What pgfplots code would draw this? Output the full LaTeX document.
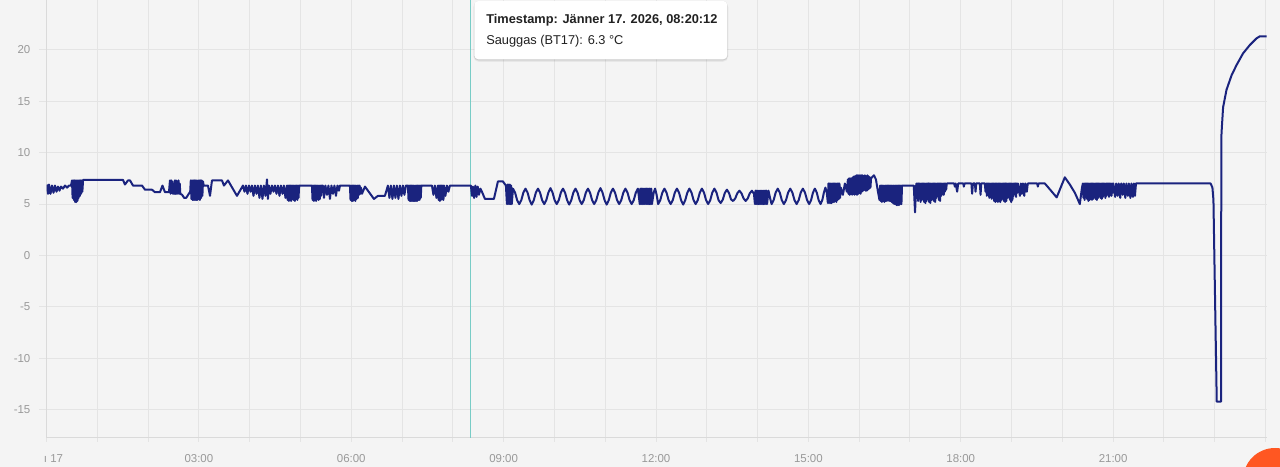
\documentclass[border=0pt]{standalone}
\usepackage{fontspec}
\setmainfont{Liberation Sans}
\usepackage{pgfplots}
\pgfplotsset{compat=1.18}
\definecolor{bgc}{HTML}{F4F4F4}
\definecolor{gridc}{HTML}{E4E4E4}
\definecolor{axc}{HTML}{DADADA}
\definecolor{labc}{HTML}{999999}
\definecolor{linec}{HTML}{1A237E}
\definecolor{fab}{HTML}{FF5722}
\begin{document}
\begin{tikzpicture}
\fill[bgc] (0pt,0pt) rectangle (960pt,350.25pt);
\begin{axis}[
  at={(34.875pt,21.975pt)}, anchor=south west,
  scale only axis, width=915pt, height=328.275pt,
  xmin=0, xmax=24.02, ymin=-17.7, ymax=24.83,
  axis x line*=bottom, axis y line*=left,
  axis line style={axc, line width=0.75pt, -},
  xtick={0,3,6,9,12,15,18,21},
  minor xtick={1,2,4,5,7,8,10,11,13,14,16,17,19,20,22,23,24},
  xticklabels={{\makebox[0pt][l]{\hspace{-1.9pt}\i\ 17}},03:00,06:00,09:00,12:00,15:00,18:00,21:00},
  ytick={-15,-10,-5,0,5,10,15,20},
  yticklabels={-15,-10,-5,0,5,10,15,20},
  grid=both,
  major grid style={gridc, line width=0.75pt},
  minor grid style={gridc, line width=0.75pt},
  tick align=outside,
  xtick style={gridc, line width=0.75pt, /pgfplots/major tick length=3pt, /pgfplots/minor tick length=3pt},
  ytick style={gridc, line width=0.75pt, /pgfplots/major tick length=5.6pt},
  every tick label/.append style={font=\fontsize{8.6}{10}\selectfont, text=labc},
  yticklabel style={xshift=-4.3pt},
  xticklabel style={yshift=-5pt},
]
\addplot[draw={rgb,255:red,120;green,204;blue,198}, line width=0.65pt, mark=none, forget plot] coordinates {(8.3367,-17.7) (8.3367,24.83)};
\addplot[linec, line width=1.5pt, line join=round, mark=none] coordinates {
(0.010,6.9) (0.030,6.0) (0.049,6.9) (0.079,6.0) (0.108,6.8) (0.138,6.1) (0.167,6.8) (0.197,6.2) (0.226,6.7) (0.256,6.3) (0.285,6.7) (0.325,6.5) (0.364,6.8) (0.404,6.6) (0.443,6.8) (0.482,6.8)
(0.502,7.3) (0.514,5.6) (0.526,7.3) (0.538,5.4) (0.550,7.3) (0.562,5.2) (0.574,7.3) (0.586,5.2) (0.598,7.3) (0.610,5.3) (0.622,7.3) (0.634,5.6) (0.646,7.3) (0.658,5.8) (0.670,7.3) (0.682,6.0) (0.694,7.3) (0.706,6.2) (0.720,7.35)
(1.506,7.35) (1.545,6.9) (1.604,7.3) (1.644,7.3) (1.703,6.8) (1.880,6.8) (1.939,6.4) (2.077,6.4) (2.136,6.15) (2.234,6.15) (2.283,6.8) (2.333,6.15) (2.411,6.15)
(2.431,7.3) (2.443,6.0) (2.455,7.3) (2.467,6.1) (2.479,7.2) (2.491,6.0) (2.503,6.8) (2.515,6.0) (2.527,7.3) (2.539,6.0) (2.551,7.3) (2.563,6.0) (2.575,7.2) (2.587,6.0) (2.599,7.3) (2.611,6.0) (2.623,7.0) (2.635,6.0)
(2.671,5.9) (2.711,5.6) (2.750,5.6) (2.789,5.9) (2.829,6.2)
(2.841,7.3) (2.853,5.5) (2.865,7.3) (2.877,5.4) (2.889,7.3) (2.901,5.4) (2.913,7.3) (2.925,5.4) (2.937,7.3) (2.949,5.4) (2.961,7.3) (2.973,5.4) (2.985,7.3) (2.997,5.5) (3.009,7.3) (3.021,5.4) (3.033,7.3) (3.045,5.6) (3.057,7.3) (3.069,5.8) (3.081,7.2)
(3.095,6.8) (3.179,6.8) (3.219,5.8) (3.258,7.3) (3.455,7.3) (3.494,6.8) (3.573,7.3) (3.750,5.8) (3.868,6.8)
(3.898,6.2) (3.927,6.8) (3.957,6.0) (3.986,6.8) (4.016,6.2) (4.045,6.8) (4.075,5.8) (4.104,6.8) (4.134,6.0) (4.163,6.8) (4.193,5.6) (4.222,6.8) (4.252,5.5) (4.281,6.8) (4.311,5.8) (4.341,7.4) (4.360,5.5) (4.380,6.8) (4.409,6.0) (4.439,6.8)
(4.469,6.2) (4.498,6.8) (4.528,6.0) (4.557,6.8) (4.587,5.8) (4.616,6.8) (4.646,6.0) (4.675,6.8) (4.705,5.6) (4.734,6.8)
(4.746,5.4) (4.758,6.8) (4.770,5.3) (4.782,6.8) (4.794,5.4) (4.806,6.8) (4.818,5.3) (4.830,6.8) (4.842,5.5) (4.854,6.8) (4.866,5.4) (4.878,6.8) (4.890,5.3) (4.902,6.8) (4.914,5.5) (4.926,6.8) (4.938,5.4) (4.950,6.8) (4.962,5.6) (4.974,6.8)
(5.226,6.8)
(5.238,5.4) (5.250,6.8) (5.262,5.3) (5.274,6.8) (5.286,5.4) (5.298,6.8) (5.310,5.3) (5.322,6.8) (5.334,5.6) (5.346,6.8) (5.358,5.4) (5.370,6.8) (5.382,5.5) (5.394,6.8) (5.406,5.8) (5.418,6.8)
(5.443,6.8) (5.463,5.6) (5.492,6.8) (5.522,5.9) (5.551,6.8) (5.581,5.5) (5.610,6.8) (5.640,6.0) (5.669,6.8) (5.699,5.8) (5.728,6.8) (5.758,6.3) (5.778,6.8)
(5.974,6.8)
(5.986,5.4) (5.998,6.8) (6.010,5.3) (6.022,6.8) (6.034,5.3) (6.046,6.8) (6.058,5.4) (6.070,6.8) (6.082,5.3) (6.094,6.8) (6.106,5.5) (6.118,6.8) (6.130,5.6) (6.142,6.8) (6.154,5.9) (6.166,6.8) (6.178,6.0) (6.191,6.6)
(6.211,6.0) (6.270,6.7) (6.329,6.3) (6.447,5.5) (6.526,5.8) (6.663,5.8) (6.722,6.8)
(6.752,5.6) (6.781,6.8) (6.811,5.5) (6.841,6.8) (6.870,5.6) (6.900,6.8) (6.929,5.5) (6.959,6.8) (6.988,5.8) (7.018,6.8) (7.047,5.9) (7.077,6.8) (7.116,6.8)
(7.128,5.4) (7.140,6.8) (7.152,5.3) (7.164,6.8) (7.176,5.3) (7.188,6.8) (7.200,5.3) (7.212,6.8) (7.224,5.3) (7.236,6.8) (7.248,5.3) (7.260,6.8) (7.272,5.3) (7.284,6.8) (7.296,5.3) (7.308,6.8) (7.320,5.4) (7.332,6.8) (7.344,5.4) (7.356,6.8) (7.368,5.6) (7.380,6.8)
(7.589,6.8) (7.618,5.9) (7.648,6.8) (7.677,5.6) (7.707,6.8)
(7.719,5.4) (7.731,6.8) (7.743,5.3) (7.755,6.8) (7.767,5.4) (7.779,6.8) (7.791,5.5) (7.803,6.8) (7.815,5.4) (7.827,6.8)
(7.854,5.8) (7.884,6.8) (7.913,6.2) (7.943,6.8)
(8.337,6.8) (8.356,6.8) (8.376,5.8) (8.396,6.7) (8.419,5.6) (8.443,6.8) (8.467,5.7) (8.490,6.7) (8.514,5.9) (8.543,6.5) (8.573,6.2) (8.632,5.5) (8.809,5.5) (8.888,7.2) (8.986,7.2) (9.045,6.8)
(9.065,5.0) (9.077,6.9) (9.089,5.0) (9.101,6.9) (9.113,5.0) (9.125,6.9) (9.137,5.0) (9.149,6.8) (9.161,5.0)
(9.184,6.5) (9.225,6.12) (9.266,5.38)
(9.307,5.0) (9.348,5.38) (9.389,6.12) (9.430,6.5) (9.471,6.12) (9.512,5.38)
(9.553,4.95) (9.594,5.38) (9.635,6.12) (9.676,6.5) (9.717,6.12) (9.758,5.38)
(9.799,5.0) (9.840,5.38) (9.881,6.12) (9.922,6.55) (9.963,6.12) (10.004,5.38)
(10.045,5.0) (10.086,5.38) (10.127,6.12) (10.168,6.5) (10.209,6.12) (10.250,5.38)
(10.291,4.95) (10.332,5.38) (10.373,6.12) (10.414,6.5) (10.455,6.12) (10.496,5.38)
(10.537,5.0) (10.578,5.38) (10.619,6.12) (10.660,6.5) (10.701,6.12) (10.742,5.38)
(10.783,5.0) (10.824,5.38) (10.865,6.12) (10.906,6.55) (10.947,6.12) (10.988,5.38)
(11.029,4.95) (11.070,5.38) (11.111,6.12) (11.152,6.5) (11.193,6.12) (11.234,5.38)
(11.275,5.0) (11.316,5.38) (11.357,6.12) (11.398,6.5) (11.439,6.12) (11.480,5.38)
(11.521,5.0) (11.562,5.38) (11.603,6.12) (11.644,6.5)
(11.680,5.0) (11.692,6.5) (11.704,5.0) (11.716,6.5) (11.728,5.0) (11.740,6.5) (11.752,5.0) (11.764,6.5) (11.776,5.0) (11.788,6.5) (11.800,5.0) (11.812,6.5) (11.824,5.0) (11.836,6.5) (11.848,5.0) (11.860,6.5) (11.872,5.0) (11.884,6.5) (11.896,5.0) (11.908,6.5) (11.920,5.0)
(11.955,6.12) (11.982,6.5) (12.012,5.9)
(12.043,5.0) (12.084,5.38) (12.125,6.12) (12.166,6.5) (12.207,6.12) (12.248,5.38)
(12.289,5.0) (12.330,5.38) (12.371,6.12) (12.412,6.5) (12.453,6.12) (12.494,5.38)
(12.535,4.95) (12.576,5.38) (12.617,6.12) (12.658,6.5) (12.699,6.12) (12.740,5.38)
(12.781,5.0) (12.822,5.38) (12.863,6.12) (12.904,6.5) (12.945,6.12) (12.986,5.38)
(13.027,5.0) (13.068,5.38) (13.109,6.12) (13.150,6.5) (13.191,6.12) (13.232,5.38)
(13.273,5.1) (13.314,5.42) (13.355,6.08) (13.396,6.4) (13.437,6.08) (13.478,5.45)
(13.519,5.3) (13.560,5.55) (13.601,6.05) (13.642,6.3) (13.683,6.05) (13.724,5.55)
(13.765,5.3) (13.806,5.55) (13.847,6.05) (13.888,6.3) (13.929,6.0)
(13.947,5.0) (13.959,6.3) (13.971,5.0) (13.983,6.3) (13.995,5.0) (14.007,6.3) (14.019,5.0) (14.031,6.3) (14.043,5.0) (14.055,6.3) (14.067,5.0) (14.079,6.3) (14.091,5.0) (14.103,6.3) (14.115,5.0) (14.127,6.3) (14.139,5.0) (14.151,6.3) (14.163,5.0) (14.175,6.3) (14.187,5.0)
(14.215,6.3) (14.245,5.6)
(14.276,5.0) (14.316,5.38) (14.356,6.12) (14.397,6.5) (14.437,6.12) (14.477,5.38)
(14.518,5.0) (14.560,5.38) (14.601,6.12) (14.643,6.5) (14.685,6.12) (14.727,5.38)
(14.768,5.0) (14.809,5.38) (14.850,6.12) (14.892,6.5) (14.933,6.12) (14.975,5.38)
(15.016,5.0) (15.053,5.38) (15.091,6.12) (15.128,6.5) (15.165,6.12) (15.203,5.38)
(15.240,5.0) (15.275,5.4) (15.305,6.1) (15.335,6.6) (15.360,6.2)
(15.384,5.1) (15.396,7.0) (15.408,5.1) (15.420,7.0) (15.432,5.1) (15.444,7.0) (15.456,5.1) (15.468,7.0) (15.480,5.2) (15.492,7.0) (15.504,5.2) (15.516,7.0) (15.528,5.3) (15.540,7.0) (15.552,5.2) (15.564,7.0) (15.576,5.4) (15.588,7.0) (15.600,5.5) (15.612,7.0) (15.624,5.6)
(15.640,6.6) (15.680,5.9) (15.719,7.0) (15.758,6.2) (15.778,7.4)
(15.790,6.0) (15.802,7.5) (15.814,5.9) (15.826,7.5) (15.838,6.0) (15.850,7.5) (15.862,5.9) (15.874,7.6) (15.886,6.0) (15.898,7.7) (15.910,5.9) (15.922,7.7) (15.934,6.0) (15.946,7.8) (15.958,5.9) (15.970,7.8) (15.982,6.0) (15.994,7.8) (16.006,6.1) (16.018,7.8) (16.030,6.0) (16.042,7.8) (16.054,6.2)
(16.066,7.8) (16.078,6.3) (16.090,7.7) (16.102,6.4) (16.114,7.8) (16.126,6.3) (16.138,7.7) (16.150,6.3) (16.162,7.8) (16.174,6.4) (16.186,7.7) (16.198,6.5) (16.210,7.6) (16.222,6.6) (16.234,7.5)
(16.290,7.8) (16.330,7.4) (16.370,6.2) (16.400,5.4)
(16.412,6.8) (16.424,5.3) (16.436,6.8) (16.448,5.2) (16.460,6.8) (16.472,5.3) (16.484,6.8) (16.496,5.2) (16.508,6.8) (16.520,5.3) (16.532,6.8) (16.544,5.3) (16.556,6.8) (16.568,5.4) (16.580,6.8) (16.592,5.3) (16.604,6.8) (16.616,5.3) (16.628,6.8) (16.640,5.2) (16.652,6.8) (16.664,5.1) (16.676,6.8) (16.688,5.0) (16.700,6.8) (16.712,5.0) (16.724,6.8) (16.736,4.9) (16.748,6.8) (16.760,4.9) (16.772,6.8) (16.784,4.9) (16.796,6.8) (16.808,5.0) (16.820,6.8) (16.832,5.0) (16.844,6.8)
(17.075,6.8) (17.100,4.2) (17.125,7.0)
(17.137,5.6) (17.149,7.0) (17.161,5.3) (17.173,7.0) (17.185,5.6) (17.197,7.0) (17.209,5.2) (17.221,7.0) (17.233,5.4) (17.245,7.0) (17.257,5.8) (17.269,7.0) (17.281,5.2) (17.293,7.0) (17.305,5.1) (17.317,7.0) (17.329,5.3) (17.341,7.0) (17.353,5.5) (17.365,7.0) (17.377,5.2) (17.389,7.0) (17.401,5.1) (17.413,7.0) (17.425,5.4) (17.437,7.0) (17.449,5.6) (17.461,7.0) (17.473,5.3) (17.485,7.0) (17.497,5.2) (17.509,7.0) (17.521,5.6) (17.533,7.0) (17.545,5.9) (17.557,7.0) (17.569,5.4) (17.581,7.0) (17.593,5.3) (17.605,7.0) (17.617,5.8) (17.629,7.0) (17.641,6.1) (17.653,7.0) (17.665,5.9) (17.677,7.0) (17.689,6.2) (17.701,7.0) (17.713,6.4) (17.725,7.0)
(17.870,7.0) (17.884,6.7) (17.900,7.0) (17.929,6.2) (17.950,7.0) (18.050,7.0) (18.061,6.7) (18.075,7.0) (18.210,7.0) (18.224,6.0) (18.240,7.0) (18.280,7.0) (18.291,6.2) (18.305,7.0) (18.376,7.0) (18.390,5.9) (18.404,7.0) (18.474,7.0) (18.488,6.2) (18.502,7.0)
(18.514,5.8) (18.526,7.0) (18.538,6.0) (18.550,7.0) (18.562,5.6) (18.574,7.0) (18.586,5.9) (18.598,7.0) (18.610,5.5) (18.622,7.0) (18.634,5.8) (18.646,7.0) (18.658,5.3) (18.670,7.0) (18.682,5.2) (18.694,7.0) (18.706,5.3) (18.718,7.0) (18.730,5.2) (18.742,7.0) (18.754,5.3) (18.766,7.0) (18.778,5.2) (18.790,7.0) (18.802,5.4) (18.814,7.0) (18.826,5.6) (18.838,7.0) (18.850,5.3) (18.862,7.0) (18.874,5.2) (18.886,7.0) (18.898,5.3) (18.910,7.0) (18.922,5.6) (18.934,7.0) (18.946,5.9) (18.958,7.0) (18.970,5.4) (18.982,7.0) (18.994,5.2) (19.006,7.0) (19.018,5.4) (19.030,7.0) (19.042,5.8) (19.054,7.0) (19.066,6.0) (19.078,7.0) (19.090,5.7) (19.102,7.0) (19.114,6.1) (19.126,7.0)
(19.165,5.8) (19.185,7.0) (19.205,6.0) (19.225,7.0) (19.250,5.8) (19.270,7.0) (19.300,6.2) (19.320,7.0)
(19.505,7.0) (19.518,6.7) (19.531,7.0) (19.656,7.0) (19.760,6.4) (19.889,5.65) (20.049,7.6) (20.148,6.9) (20.246,6.1) (20.310,5.4) (20.344,5.0) (20.384,6.5) (20.404,7.0)
(20.416,5.6) (20.428,7.0) (20.440,5.4) (20.452,7.0) (20.464,5.7) (20.476,7.0) (20.488,5.5) (20.500,7.0) (20.512,5.3) (20.524,7.0) (20.536,5.4) (20.548,7.0) (20.560,5.6) (20.572,7.0) (20.584,5.4) (20.596,7.0) (20.608,5.5) (20.620,7.0) (20.632,5.8) (20.644,7.0) (20.656,5.5) (20.668,7.0) (20.680,5.4) (20.692,7.0) (20.704,5.6) (20.716,7.0) (20.728,5.9) (20.740,7.0) (20.752,5.6) (20.764,7.0) (20.776,5.5) (20.788,7.0) (20.800,5.7) (20.812,7.0) (20.824,5.9) (20.836,7.0) (20.848,5.6) (20.860,7.0) (20.872,5.8) (20.884,7.0) (20.896,6.0) (20.908,7.0) (20.920,5.7) (20.932,7.0) (20.944,6.0) (20.956,7.0) (20.968,5.8) (20.980,7.0) (20.992,6.1) (21.004,7.0)
(21.040,5.7) (21.060,7.0) (21.090,5.8) (21.110,7.0) (21.140,5.6) (21.160,7.0) (21.190,5.9) (21.210,7.0) (21.240,5.6) (21.260,7.0) (21.290,5.8) (21.310,7.0) (21.340,5.6) (21.360,7.0) (21.390,5.7) (21.410,7.0) (21.430,5.8) (21.450,7.0)
(22.920,7.0) (22.955,6.6) (22.975,5.4) (23.040,-14.2) (23.125,-14.2) (23.130,10.8) (23.134,11.9) (23.165,14.4) (23.232,16.1) (23.331,17.5) (23.429,18.5) (23.559,19.65) (23.691,20.45) (23.823,21.1) (23.888,21.3) (24.020,21.3)
};
\end{axis}
\begin{scope}[x=0.75pt,y=0.75pt]
\fill[black, opacity=0.05, rounded corners=4pt] (473.3,405.2) rectangle (728.3,465);
\fill[black, opacity=0.06, rounded corners=3.5pt] (473.8,406.2) rectangle (727.8,465.5);
\fill[black, opacity=0.07, rounded corners=3pt] (474.1,407) rectangle (727.5,466);
\fill[white, rounded corners=3pt] (474.3,407.7) rectangle (727.3,466);
\node[anchor=base west, inner sep=0pt, font=\fontsize{9.6}{11}\selectfont\bfseries, text=black!87] at (486,443.7) {Timestamp: Jänner 17. 2026, 08:20:12};
\node[anchor=base west, inner sep=0pt, font=\fontsize{9.6}{11}\selectfont, text=black!87] at (486,422) {Sauggas (BT17): 6.3 °C};
\clip (0,0) rectangle (1280,467);
\fill[fab] (1275,-13) circle (32);
\end{scope}
\pgfresetboundingbox
\useasboundingbox (0pt,0pt) rectangle (960pt,350.25pt);
\end{tikzpicture}
\end{document}
